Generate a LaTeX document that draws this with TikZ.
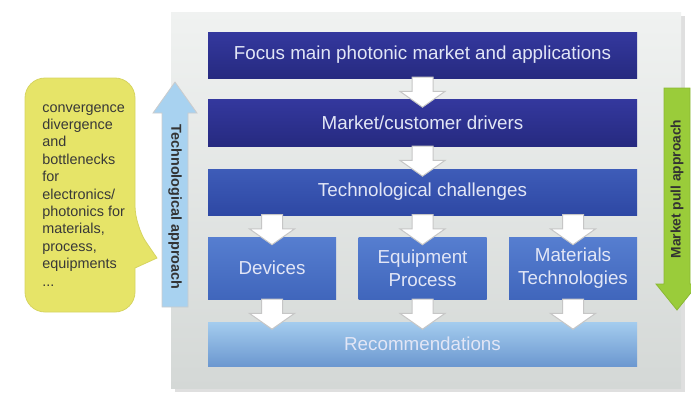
\documentclass[tikz,border=0pt]{standalone}
\usepackage{fontspec}
\setmainfont{Liberation Sans}
\usetikzlibrary{shapes.arrows,shadows,calc}

\definecolor{paneltop}{RGB}{240,242,241}
\definecolor{panelbot}{RGB}{212,216,214}
\definecolor{navytop}{RGB}{52,56,158}
\definecolor{navybot}{RGB}{38,42,128}
\definecolor{midtop}{RGB}{62,92,184}
\definecolor{midbot}{RGB}{46,72,164}
\definecolor{tiletop}{RGB}{86,126,208}
\definecolor{tilebot}{RGB}{64,102,188}
\definecolor{rectop}{RGB}{164,204,238}
\definecolor{recbot}{RGB}{108,152,208}
\definecolor{boxtext}{RGB}{226,230,246}
\definecolor{techblue}{RGB}{168,210,240}
\definecolor{pullgreen}{RGB}{154,204,58}
\definecolor{noteyellow}{RGB}{230,228,104}

\tikzset{
  band/.style={minimum width=214.5pt, minimum height=23pt, inner sep=0pt,
    text=boxtext, font=\fontsize{9.4}{11.5}\selectfont, align=center},
  tile/.style={band, minimum width=64pt, minimum height=31pt},
  flow/.style={single arrow, shape border rotate=270, fill=white,
    draw=gray!45, line width=0.5pt, inner sep=5pt, minimum width=22pt,
    single arrow head extend=6pt, single arrow tip angle=110,
    minimum height=15pt},
  sidelabel/.style={font=\fontsize{7.2}{8}\selectfont\bfseries, text=black!80},
}

\begin{document}
\begin{tikzpicture}[x=0.5pt,y=-0.5pt]
\useasboundingbox (0,0) rectangle (691,396);

% grey panel
\path[top color=paneltop, bottom color=panelbot,
  drop shadow={shadow xshift=2pt, shadow yshift=-2pt, opacity=.25}]
  (171,12) rectangle (681,388);

% main chain
\node[band, top color=navytop, bottom color=navybot] (focus) at (422.5,55)
  {Focus main photonic market and applications};
\node[band, minimum height=23.5pt, top color=navytop, bottom color=navybot]
  (drivers) at (422.5,122.5) {Market/customer drivers};
\node[band, top color=midtop, bottom color=midbot] (challenges) at (422.5,192)
  {Technological challenges};

% three fields
\node[tile, top color=tiletop, bottom color=tilebot] (devices) at (272,268) {Devices};
\node[tile, top color=tiletop, bottom color=tilebot] (equip) at (422.5,268)
  {Equipment\\Process};
\node[tile, top color=tiletop, bottom color=tilebot] (materials) at (573,268)
  {Materials\\Technologies};

\node[band, minimum height=22pt, top color=rectop, bottom color=recbot]
  (recs) at (422.5,344) {Recommendations};

% white block arrows
\node[flow] (f1) at ($(focus.south)!0.5!(drivers.north)$) {};
\node[flow] (f2) at ($(drivers.south)!0.5!(challenges.north)$) {};
\foreach \t in {devices,equip,materials} {
  \node[flow] (in-\t) at ($(\t.north |- challenges.south)!0.5!(\t.north)$) {};
  \node[flow] (out-\t) at ($(\t.south)!0.5!(\t.south |- recs.north)$) {};
}

% technological approach (up)
\draw[draw=gray!40, fill=techblue] (162,307) -- (162,113) -- (153,113)
  -- (175,82) -- (197,113) -- (188,113) -- (188,307) -- cycle;
\node[sidelabel, rotate=-90] (techlabel) at (175,207) {Technological approach};

% market pull approach (down)
\draw[draw=pullgreen!90!black, fill=pullgreen] (664,88) -- (664,284) -- (656,284)
  -- (677,310) -- (698,284) -- (690,284) -- (690,88) -- cycle;
\node[sidelabel, rotate=90, font=\fontsize{6.9}{8}\selectfont\bfseries]
  (pulllabel) at (677,189) {Market pull approach};

% yellow note
\draw[draw=noteyellow!93!black, fill=noteyellow, rounded corners=10pt]
  (25,78) -- (135,78) -- (135,226) [sharp corners] -- (157,258)
  -- (135,268) [rounded corners=10pt] -- (135,312) -- (25,312) -- cycle;
\node[anchor=north west, inner sep=0pt, align=left, text=black!78,
  font=\fontsize{7.2}{8.7}\selectfont] (note) at (42,104)
  {convergence\\divergence\\and\\bottlenecks\\for\\electronics/\\photonics for\\
   materials,\\process,\\equipments\\...};
\end{tikzpicture}
\end{document}
